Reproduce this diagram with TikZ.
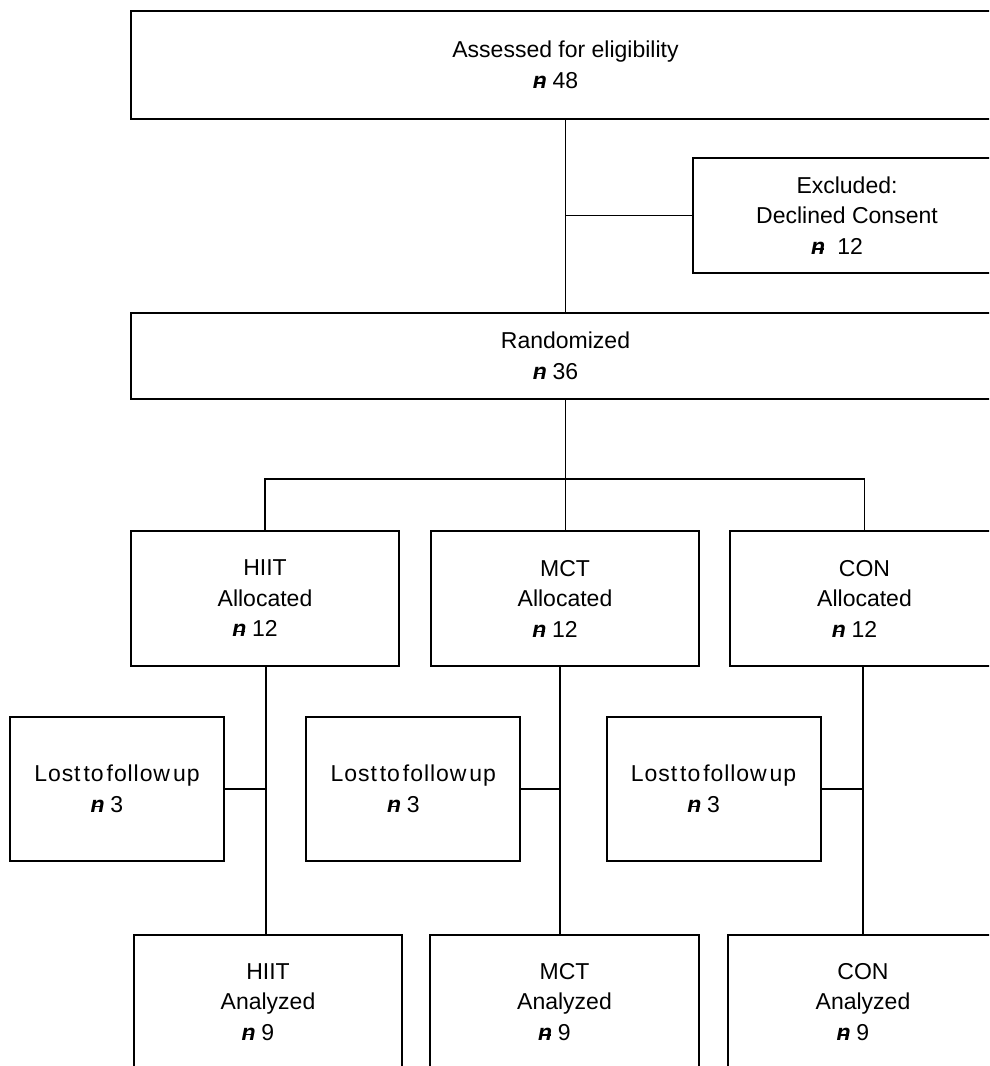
\documentclass[tikz,border=0pt]{standalone}
\usepackage{fontspec}
\setmainfont{Liberation Sans}
\newcommand\nsym{\makebox[0.58em][l]{\bfseries\itshape n\llap{\raisebox{0.21em}{\rule{0.38em}{0.065em}}\kern0.07em}}}
\newcommand\ltfu{{\addfontfeature{LetterSpace=4}Lost\hspace{3pt}to\hspace{3pt}follow\hspace{3pt}up}}
\newcommand\shiftr{\rule{20pt}{0pt}}
\begin{document}
\begin{tikzpicture}[x=1pt,y=-1pt,
  box/.style={draw, line width=1.8pt, align=center, inner sep=0pt,
    font=\fontsize{23}{30.5}\selectfont},
  conn/.style={line width=1.8pt}]
\useasboundingbox (0,0) rectangle (989,1066);
\clip (0,0) rectangle (989,1066);

% top
\node[box, minimum width=869pt, minimum height=108pt] (assess) at (565.5,65)
  {Assessed for eligibility\\\nsym\ 48\shiftr};
\node[box, minimum width=308pt, minimum height=115.6pt] (excl) at (847,215.5)
  {Excluded:\\Declined Consent\\\nsym\ \ 12\shiftr};
\node[box, minimum width=869pt, minimum height=86pt] (rand) at (565.5,355.7)
  {Randomized\\\nsym\ 36\shiftr};

% allocated
\node[box, minimum width=268pt, minimum height=135pt] (hiit) at (265,598.5)
  {HIIT\\Allocated\\\nsym\ 12\shiftr};
\node[box, minimum width=268.5pt, minimum height=135pt] (mct) at (565,598.5)
  {MCT\\Allocated\\\nsym\ 12\shiftr};
\node[box, minimum width=269pt, minimum height=135pt] (con) at (864.5,598.5)
  {CON\\Allocated\\\nsym\ 12\shiftr};

% lost
\node[box, minimum width=214pt, minimum height=144pt] (lost1) at (117,788.7)
  {\ltfu\\\nsym\ 3\shiftr};
\node[box, minimum width=214pt, minimum height=144pt] (lost2) at (413.3,788.7)
  {\ltfu\\\nsym\ 3\shiftr};
\node[box, minimum width=214pt, minimum height=144pt] (lost3) at (713.6,788.7)
  {\ltfu\\\nsym\ 3\shiftr};

% analyzed
\node[box, minimum width=268pt, minimum height=134pt] (hiitan) at (268,1002)
  {HIIT\\Analyzed\\\nsym\ 9\shiftr};
\node[box, minimum width=269pt, minimum height=134pt] (mctan) at (564.5,1002)
  {MCT\\Analyzed\\\nsym\ 9\shiftr};
\node[box, minimum width=270pt, minimum height=134pt] (conan) at (863,1002)
  {CON\\Analyzed\\\nsym\ 9\shiftr};

% connectors
\draw[conn] (assess.south) -- (rand.north);
\draw[conn] (assess.south |- excl.west) -- (excl.west);
\draw[conn] (rand.south) -- (rand.south |- mct.north);
\draw[conn] (hiit.north) -- ++(0,-51) -| (con.north);

\coordinate (v1) at (265.7,666);
\coordinate (v2) at (560.2,666);
\coordinate (v3) at (862.7,667);
\draw[conn] (v1) -- (v1 |- hiitan.north);
\draw[conn] (v2) -- (v2 |- mctan.north);
\draw[conn] (v3) -- (v3 |- conan.north);
\draw[conn] (lost1.east) -- (lost1.east -| v1);
\draw[conn] (lost2.east) -- (lost2.east -| v2);
\draw[conn] (lost3.east) -- (lost3.east -| v3);
\end{tikzpicture}
\end{document}
